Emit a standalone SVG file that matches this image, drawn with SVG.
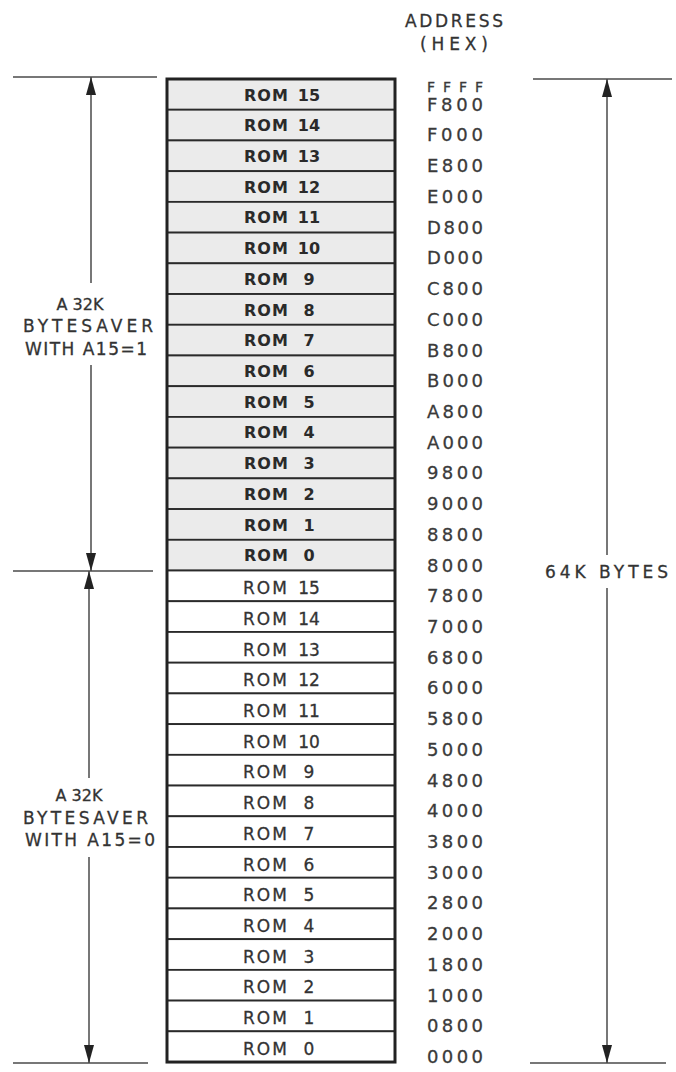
<svg xmlns="http://www.w3.org/2000/svg" width="676" height="1072" viewBox="0 0 676 1072">
<style>
.hi rect{fill:#ebebeb;stroke:#2a2a2a;stroke-width:1.8}
.lo rect{fill:#ffffff;stroke:#2a2a2a;stroke-width:1.8}
.hi text{font-family:"DejaVu Sans",sans-serif;font-weight:bold;font-size:16px;fill:#2a2a2a;letter-spacing:1px}
.lo text{font-family:"DejaVu Sans",sans-serif;font-size:17px;fill:#333;stroke:#333;stroke-width:0.3;letter-spacing:2px}
.num{text-anchor:middle;letter-spacing:0}
.lbl{font-family:"DejaVu Sans",sans-serif;font-size:17px;fill:#333;stroke:#333;stroke-width:0.3}
.mid{text-anchor:middle;font-size:16px}
.addr{font-family:"DejaVu Sans",sans-serif;font-size:18px;fill:#3a3a3a;stroke:#3a3a3a;stroke-width:0.3}
.dim{stroke:#4a4a4a;stroke-width:1.5;fill:none}
.arr{stroke:#4a4a4a;stroke-width:1.5;fill:none;marker-end:url(#ah)}
</style>
<defs>
<marker id="ah" markerUnits="userSpaceOnUse" markerWidth="18" markerHeight="10" viewBox="0 0 18 10" refX="18" refY="5" orient="auto">
<path d="M0,0 L18,5 L0,10 z" fill="#222"/>
</marker>
</defs>
<rect width="676" height="1072" fill="#ffffff"/>
<g id="header">
<text class="lbl" x="405" y="27" textLength="98" lengthAdjust="spacing">ADDRESS</text>
<text class="lbl" x="420" y="50" textLength="68" lengthAdjust="spacing">(HEX)</text>
</g>
<g id="rom-hi-15" class="hi"><rect x="167" y="79" width="228" height="30.72"/><text y="100.5"><tspan x="244">ROM</tspan><tspan class="num" x="309">15</tspan></text></g>
<g id="rom-hi-14" class="hi"><rect x="167" y="109.72" width="228" height="30.72"/><text y="131.2"><tspan x="244">ROM</tspan><tspan class="num" x="309">14</tspan></text></g>
<g id="rom-hi-13" class="hi"><rect x="167" y="140.44" width="228" height="30.72"/><text y="161.9"><tspan x="244">ROM</tspan><tspan class="num" x="309">13</tspan></text></g>
<g id="rom-hi-12" class="hi"><rect x="167" y="171.16" width="228" height="30.72"/><text y="192.7"><tspan x="244">ROM</tspan><tspan class="num" x="309">12</tspan></text></g>
<g id="rom-hi-11" class="hi"><rect x="167" y="201.88" width="228" height="30.72"/><text y="223.4"><tspan x="244">ROM</tspan><tspan class="num" x="309">11</tspan></text></g>
<g id="rom-hi-10" class="hi"><rect x="167" y="232.6" width="228" height="30.72"/><text y="254.1"><tspan x="244">ROM</tspan><tspan class="num" x="309">10</tspan></text></g>
<g id="rom-hi-9" class="hi"><rect x="167" y="263.32" width="228" height="30.72"/><text y="284.8"><tspan x="244">ROM</tspan><tspan class="num" x="309">9</tspan></text></g>
<g id="rom-hi-8" class="hi"><rect x="167" y="294.04" width="228" height="30.72"/><text y="315.5"><tspan x="244">ROM</tspan><tspan class="num" x="309">8</tspan></text></g>
<g id="rom-hi-7" class="hi"><rect x="167" y="324.76" width="228" height="30.72"/><text y="346.3"><tspan x="244">ROM</tspan><tspan class="num" x="309">7</tspan></text></g>
<g id="rom-hi-6" class="hi"><rect x="167" y="355.48" width="228" height="30.72"/><text y="377"><tspan x="244">ROM</tspan><tspan class="num" x="309">6</tspan></text></g>
<g id="rom-hi-5" class="hi"><rect x="167" y="386.2" width="228" height="30.72"/><text y="407.7"><tspan x="244">ROM</tspan><tspan class="num" x="309">5</tspan></text></g>
<g id="rom-hi-4" class="hi"><rect x="167" y="416.92" width="228" height="30.72"/><text y="438.4"><tspan x="244">ROM</tspan><tspan class="num" x="309">4</tspan></text></g>
<g id="rom-hi-3" class="hi"><rect x="167" y="447.64" width="228" height="30.72"/><text y="469.1"><tspan x="244">ROM</tspan><tspan class="num" x="309">3</tspan></text></g>
<g id="rom-hi-2" class="hi"><rect x="167" y="478.36" width="228" height="30.72"/><text y="499.9"><tspan x="244">ROM</tspan><tspan class="num" x="309">2</tspan></text></g>
<g id="rom-hi-1" class="hi"><rect x="167" y="509.08" width="228" height="30.72"/><text y="530.6"><tspan x="244">ROM</tspan><tspan class="num" x="309">1</tspan></text></g>
<g id="rom-hi-0" class="hi"><rect x="167" y="539.8" width="228" height="30.72"/><text y="561.3"><tspan x="244">ROM</tspan><tspan class="num" x="309">0</tspan></text></g>
<g id="rom-lo-15" class="lo"><rect x="167" y="570.52" width="228" height="30.72"/><text y="594"><tspan x="243">ROM</tspan><tspan class="num" x="309">15</tspan></text></g>
<g id="rom-lo-14" class="lo"><rect x="167" y="601.24" width="228" height="30.72"/><text y="624.7"><tspan x="243">ROM</tspan><tspan class="num" x="309">14</tspan></text></g>
<g id="rom-lo-13" class="lo"><rect x="167" y="631.96" width="228" height="30.72"/><text y="655.5"><tspan x="243">ROM</tspan><tspan class="num" x="309">13</tspan></text></g>
<g id="rom-lo-12" class="lo"><rect x="167" y="662.68" width="228" height="30.72"/><text y="686.2"><tspan x="243">ROM</tspan><tspan class="num" x="309">12</tspan></text></g>
<g id="rom-lo-11" class="lo"><rect x="167" y="693.4" width="228" height="30.72"/><text y="716.9"><tspan x="243">ROM</tspan><tspan class="num" x="309">11</tspan></text></g>
<g id="rom-lo-10" class="lo"><rect x="167" y="724.12" width="228" height="30.72"/><text y="747.6"><tspan x="243">ROM</tspan><tspan class="num" x="309">10</tspan></text></g>
<g id="rom-lo-9" class="lo"><rect x="167" y="754.84" width="228" height="30.72"/><text y="778.3"><tspan x="243">ROM</tspan><tspan class="num" x="309">9</tspan></text></g>
<g id="rom-lo-8" class="lo"><rect x="167" y="785.56" width="228" height="30.72"/><text y="809.1"><tspan x="243">ROM</tspan><tspan class="num" x="309">8</tspan></text></g>
<g id="rom-lo-7" class="lo"><rect x="167" y="816.28" width="228" height="30.72"/><text y="839.8"><tspan x="243">ROM</tspan><tspan class="num" x="309">7</tspan></text></g>
<g id="rom-lo-6" class="lo"><rect x="167" y="847" width="228" height="30.72"/><text y="870.5"><tspan x="243">ROM</tspan><tspan class="num" x="309">6</tspan></text></g>
<g id="rom-lo-5" class="lo"><rect x="167" y="877.72" width="228" height="30.72"/><text y="901.2"><tspan x="243">ROM</tspan><tspan class="num" x="309">5</tspan></text></g>
<g id="rom-lo-4" class="lo"><rect x="167" y="908.44" width="228" height="30.72"/><text y="931.9"><tspan x="243">ROM</tspan><tspan class="num" x="309">4</tspan></text></g>
<g id="rom-lo-3" class="lo"><rect x="167" y="939.16" width="228" height="30.72"/><text y="962.7"><tspan x="243">ROM</tspan><tspan class="num" x="309">3</tspan></text></g>
<g id="rom-lo-2" class="lo"><rect x="167" y="969.88" width="228" height="30.72"/><text y="993.4"><tspan x="243">ROM</tspan><tspan class="num" x="309">2</tspan></text></g>
<g id="rom-lo-1" class="lo"><rect x="167" y="1000.6" width="228" height="30.72"/><text y="1024.1"><tspan x="243">ROM</tspan><tspan class="num" x="309">1</tspan></text></g>
<g id="rom-lo-0" class="lo"><rect x="167" y="1031.32" width="228" height="30.72"/><text y="1054.8"><tspan x="243">ROM</tspan><tspan class="num" x="309">0</tspan></text></g>
<g id="box-outline"><rect x="167" y="79" width="228" height="983.04" fill="none" stroke="#222" stroke-width="3"/></g>
<g id="addresses" class="addr">
<text x="427" y="92" font-size="14" textLength="56" lengthAdjust="spacing">FFFF</text>
<text x="427" y="110.7" textLength="56" lengthAdjust="spacing">F800</text>
<text x="427" y="141.4" textLength="56" lengthAdjust="spacing">F000</text>
<text x="427" y="172.2" textLength="56" lengthAdjust="spacing">E800</text>
<text x="427" y="202.9" textLength="56" lengthAdjust="spacing">E000</text>
<text x="427" y="233.6" textLength="56" lengthAdjust="spacing">D800</text>
<text x="427" y="264.3" textLength="56" lengthAdjust="spacing">D000</text>
<text x="427" y="295" textLength="56" lengthAdjust="spacing">C800</text>
<text x="427" y="325.8" textLength="56" lengthAdjust="spacing">C000</text>
<text x="427" y="356.5" textLength="56" lengthAdjust="spacing">B800</text>
<text x="427" y="387.2" textLength="56" lengthAdjust="spacing">B000</text>
<text x="427" y="417.9" textLength="56" lengthAdjust="spacing">A800</text>
<text x="427" y="448.6" textLength="56" lengthAdjust="spacing">A000</text>
<text x="427" y="479.4" textLength="56" lengthAdjust="spacing">9800</text>
<text x="427" y="510.1" textLength="56" lengthAdjust="spacing">9000</text>
<text x="427" y="540.8" textLength="56" lengthAdjust="spacing">8800</text>
<text x="427" y="571.5" textLength="56" lengthAdjust="spacing">8000</text>
<text x="427" y="602.2" textLength="56" lengthAdjust="spacing">7800</text>
<text x="427" y="633" textLength="56" lengthAdjust="spacing">7000</text>
<text x="427" y="663.7" textLength="56" lengthAdjust="spacing">6800</text>
<text x="427" y="694.4" textLength="56" lengthAdjust="spacing">6000</text>
<text x="427" y="725.1" textLength="56" lengthAdjust="spacing">5800</text>
<text x="427" y="755.8" textLength="56" lengthAdjust="spacing">5000</text>
<text x="427" y="786.6" textLength="56" lengthAdjust="spacing">4800</text>
<text x="427" y="817.3" textLength="56" lengthAdjust="spacing">4000</text>
<text x="427" y="848" textLength="56" lengthAdjust="spacing">3800</text>
<text x="427" y="878.7" textLength="56" lengthAdjust="spacing">3000</text>
<text x="427" y="909.4" textLength="56" lengthAdjust="spacing">2800</text>
<text x="427" y="940.2" textLength="56" lengthAdjust="spacing">2000</text>
<text x="427" y="970.9" textLength="56" lengthAdjust="spacing">1800</text>
<text x="427" y="1001.6" textLength="56" lengthAdjust="spacing">1000</text>
<text x="427" y="1032.3" textLength="56" lengthAdjust="spacing">0800</text>
<text x="427" y="1063" textLength="56" lengthAdjust="spacing">0000</text>
</g>
<g id="connectors">
<line class="dim" x1="13" y1="77" x2="157" y2="77"/>
<line class="dim" x1="13" y1="571" x2="153" y2="571"/>
<line class="dim" x1="13" y1="1063" x2="148" y2="1063"/>
<line class="dim" x1="533" y1="79" x2="672" y2="79"/>
<line class="dim" x1="530" y1="1063" x2="666" y2="1063"/>
<line class="arr" x1="91" y1="283" x2="91" y2="77"/>
<line class="arr" x1="91" y1="365" x2="91" y2="571"/>
<line class="arr" x1="89" y1="778" x2="89" y2="571"/>
<line class="arr" x1="89" y1="857" x2="89" y2="1063"/>
<line class="arr" x1="607" y1="555" x2="607" y2="79"/>
<line class="arr" x1="607" y1="588" x2="607" y2="1063"/>
</g>
<g id="label-upper">
<text class="lbl mid" x="80" y="310">A 32K</text>
<text class="lbl" x="23" y="332" textLength="130" lengthAdjust="spacing">BYTESAVER</text>
<text class="lbl" x="25" y="355" textLength="122" lengthAdjust="spacing">WITH A15=1</text>
</g>
<g id="label-lower">
<text class="lbl mid" x="79" y="801">A 32K</text>
<text class="lbl" x="23" y="824" textLength="125" lengthAdjust="spacing">BYTESAVER</text>
<text class="lbl" x="25" y="846" textLength="130" lengthAdjust="spacing">WITH A15=0</text>
</g>
<g id="label-total">
<text class="lbl" x="545" y="578" textLength="123" lengthAdjust="spacing">64K BYTES</text>
</g>
</svg>
